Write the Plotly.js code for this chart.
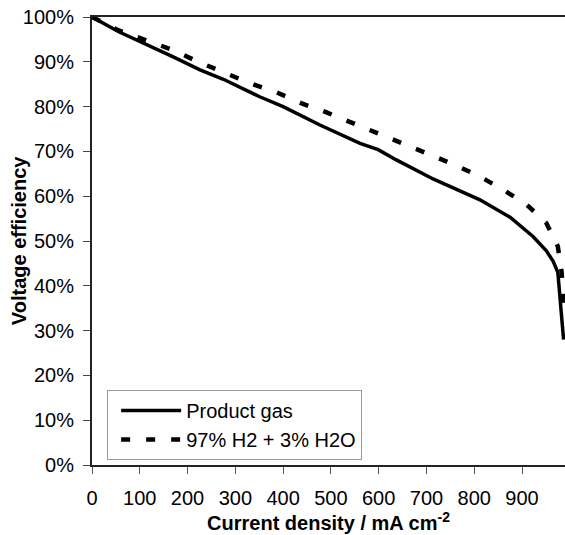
<!DOCTYPE html>
<html>
<head>
<meta charset="utf-8">
<script src="https://cdn.plot.ly/plotly-3.0.1.min.js"></script>
<style>html,body{margin:0;padding:0;background:#fff;}#chart{width:565px;height:535px;}</style>
</head>
<body>
<div id="chart"></div>
<script>
// Current density (mA cm^-2) and voltage efficiency (%)
var productGasCurrent = [0, 56, 170, 226, 275, 351, 400, 477, 561, 599, 637, 715, 812, 875, 923, 951, 965, 975, 987];
var productGasEff     = [100, 96.7, 91.1, 88.2, 86.1, 82.2, 80.0, 75.9, 71.8, 70.4, 68.1, 63.8, 59.2, 55.3, 51.0, 47.8, 45.5, 43.0, 28.0];
var h2Current = [0, 56, 116, 170, 222, 278, 331, 386, 439, 491, 547, 599, 652, 700, 759, 812, 864, 909, 951, 975, 983, 987];
var h2Eff     = [100, 97.0, 94.7, 92.6, 90.0, 87.6, 85.2, 83.2, 80.7, 78.7, 76.3, 74.1, 71.9, 69.6, 67.0, 64.4, 61.2, 58.2, 54.0, 48.8, 43.0, 36.0];
var seriesNames = ["Product gas", "97% H2 + 3% H2O"];
var xTickVals = [0, 100, 200, 300, 400, 500, 600, 700, 800, 900];
var yTickVals = [0, 10, 20, 30, 40, 50, 60, 70, 80, 90, 100];

var FONT = "Arial, 'Liberation Sans', sans-serif";

var traces = [
  {x: productGasCurrent, y: productGasEff, name: seriesNames[0], type: "scatter", mode: "lines",
   line: {color: "#000", width: 3.5}},
  {x: h2Current, y: h2Eff, name: seriesNames[1], type: "scatter", mode: "lines",
   line: {color: "#000", width: 4.5, dash: "9px,16px"}}
];

var layout = {
  width: 565, height: 535,
  margin: {l: 92, r: 0, t: 17, b: 70},
  paper_bgcolor: "#fff", plot_bgcolor: "#fff",
  font: {family: FONT, size: 20, color: "#000"},
  showlegend: true,
  legend: {
    x: 0.032, y: 0.1674, xanchor: "left", yanchor: "top",
    bgcolor: "#fff", bordercolor: "#999", borderwidth: 1,
    font: {family: FONT, size: 20, color: "#000"},
    itemwidth: 60, indentation: 8, tracegroupgap: 0
  },
  xaxis: {
    range: [0, 990], tickvals: xTickVals, ticktext: xTickVals.map(String),
    showgrid: false, zeroline: false,
    showline: true, linecolor: "#222", linewidth: 2, mirror: true,
    ticks: "outside", ticklen: 7, tickwidth: 1, tickcolor: "#555",
    ticklabelstandoff: 7,
    tickfont: {family: FONT, size: 20, color: "#000"},
    title: {text: "<b>Current density / mA cm<sup>-2</sup></b>", font: {family: FONT, size: 20, color: "#000"}, standoff: 4}
  },
  yaxis: {
    range: [0, 100], tickvals: yTickVals, ticktext: yTickVals.map(function(v){return v + "%";}),
    showgrid: false, zeroline: false,
    showline: true, linecolor: "#222", linewidth: 2,
    ticks: "outside", ticklen: 7, tickwidth: 1, tickcolor: "#444",
    ticklabelstandoff: 5,
    tickfont: {family: FONT, size: 20, color: "#000"}
  },
  annotations: [{
    text: "<b>Voltage efficiency</b>", textangle: -90,
    xref: "paper", yref: "paper", x: -0.154, y: 0.5,
    xanchor: "center", yanchor: "middle", showarrow: false,
    font: {family: FONT, size: 20, color: "#000"}
  }]
};

Plotly.newPlot("chart", traces, layout, {staticPlot: true, displayModeBar: false});
</script>
</body>
</html>
